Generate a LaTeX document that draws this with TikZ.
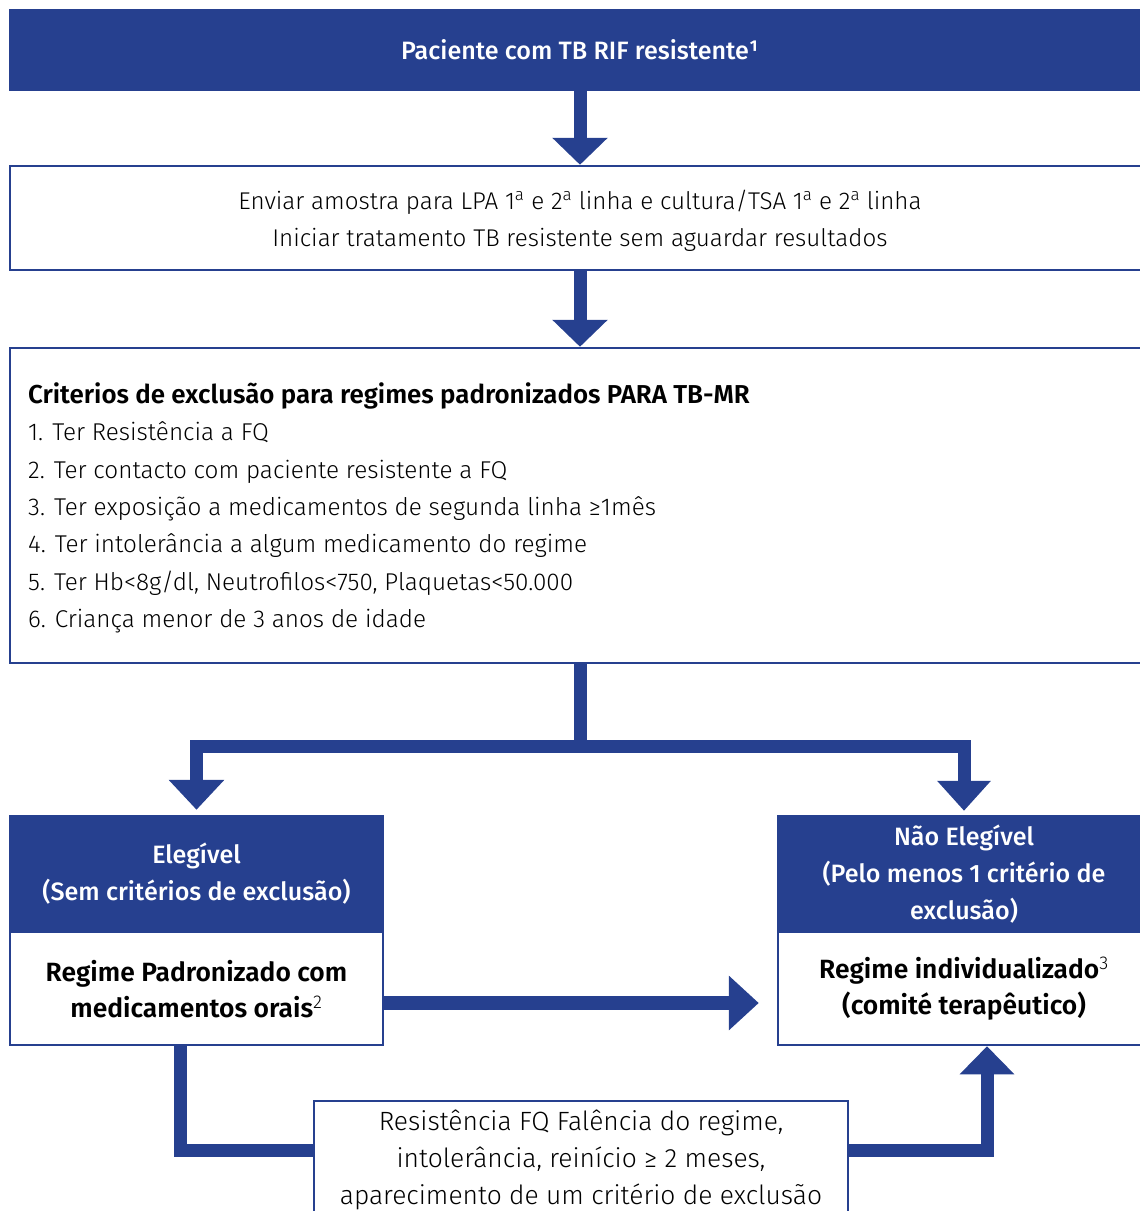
\documentclass[tikz,border=0pt]{standalone}
\usepackage{fontspec}
\setmainfont{Fira Sans}[UprightFont=* Light, BoldFont=* SemiBold]
\newfontfamily\medfont{Fira Sans Medium}
\newfontfamily\boldfont{Fira Sans SemiBold}
\usetikzlibrary{arrows.meta}
\definecolor{tbblue}{RGB}{38,64,143}
\newcommand{\ordA}{\textsuperscript{a}}
\begin{document}
\begin{tikzpicture}[x=1pt,y=-1pt,
  box/.style={draw=tbblue, line width=2.5pt, fill=white, rectangle, inner sep=0pt},
  hbox/.style={draw=tbblue, fill=tbblue, line width=2.5pt, rectangle, inner sep=0pt,
    text=white, align=center, font=\medfont\fontsize{25.1}{37}\selectfont},
  lighttext/.style={align=center, inner sep=0pt, font=\fontsize{24.2}{37}\selectfont},
  boldtext/.style={align=center, inner sep=0pt, font=\boldfont\fontsize{26.4}{36}\selectfont},
  conn/.style={draw=tbblue, line width=13pt},
  bigtip/.style={-{Triangle[length=27pt,width=54pt]}}
]
\useasboundingbox (0,0) rectangle (1140,1211);
\clip (0,0) rectangle (1140,1211);

% boxes
\node[hbox, minimum width=1140pt, minimum height=80pt] (top) at (580,50)
  {Paciente com TB RIF resistente¹};
\node[box, minimum width=1140pt, minimum height=104pt] (send) at (580,218) {};
\node[lighttext] (sendtext) at (580,220.5)
  {Enviar amostra para LPA 1\ordA{} e 2\ordA{} linha e cultura/TSA 1\ordA{} e 2\ordA{} linha\\
   Iniciar tratamento TB resistente sem aguardar resultados};
\node[box, minimum width=1140pt, minimum height=315pt] (crit) at (580,505.5) {};
\node[anchor=west, align=left, inner sep=0pt, font=\fontsize{24.3}{37.33}\selectfont] (crittext) at (28,508)
  {{\boldfont\fontsize{25.9}{37.33}\selectfont Criterios de exclusão para regimes padronizados PARA TB-MR}\\
   1. Ter Resistência a FQ\\
   2. Ter contacto com paciente resistente a FQ\\
   3. Ter exposição a medicamentos de segunda linha ≥1mês\\
   4. Ter intolerância a algum medicamento do regime\\
   5. Ter Hb<8g/dl, Neutrofilos<750, Plaquetas<50.000\\
   6. Criança menor de 3 anos de idade};

\node[hbox, minimum width=373pt, minimum height=116pt] (lhead) at (196.5,874)
  {Elegível\\(Sem critérios de exclusão)};
\node[box, minimum width=373pt, minimum height=113pt] (lbody) at (196.5,988.5) {};
\node[boldtext] (lbodytext) at (196.5,989)
  {Regime Padronizado com\\medicamentos orais{\normalfont\textsuperscript{2}}};

\node[hbox, minimum width=372pt, minimum height=116pt] (rhead) at (964,874)
  {Não Elegível\\(Pelo menos 1 critério de\\exclusão)};
\node[box, minimum width=372pt, minimum height=113pt] (rbody) at (964,988.5) {};
\node[boldtext] (rbodytext) at (964,989)
  {Regime individualizado{\normalfont\textsuperscript{3}}\\(comité terapêutico)};

\node[box, minimum width=534pt, minimum height=128pt] (fb) at (581,1165) {};
\node[lighttext, font=\fontsize{26.4}{37}\selectfont] (fbtext) at (581,1160)
  {Resistência FQ Falência do regime,\\
   intolerância, reinício ≥ 2 meses,\\
   aparecimento de um critério de exclusão};

% connectors
\draw[conn, bigtip] (top.south) -- (send.north);
\draw[conn, bigtip] (send.south) -- (crit.north);
\draw[conn] (crit.south) -- (580,746);
\draw[conn, -{Triangle[length=30pt,width=54pt]}, shorten >=5pt] (580,746) -| (lhead.north);
\draw[conn, -{Triangle[length=30pt,width=52pt]}, shorten >=4pt] (580,746) -| (rhead.north);
\draw[conn, line width=14pt, -{Triangle[length=30pt,width=53pt]}, shorten >=18pt]
  ([yshift=-14.5pt]lbody.east) -- ([yshift=-14.5pt]rbody.west);
\draw[conn] ([xshift=-16.5pt]lbody.south) |- ([yshift=15pt]fb.west);
\draw[conn, -{Triangle[length=28pt,width=53pt]}]
  ([yshift=15pt]fb.east) -| ([xshift=23pt]rbody.south);
\end{tikzpicture}
\end{document}
